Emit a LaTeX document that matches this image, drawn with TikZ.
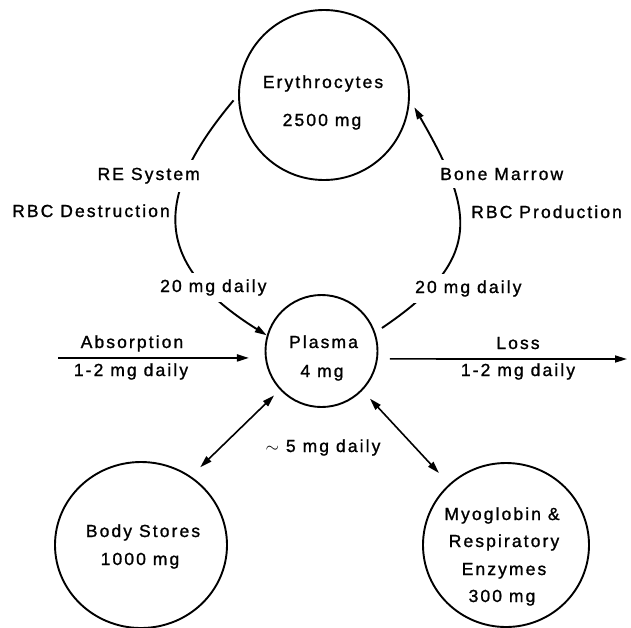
\documentclass[tikz,border=0pt]{standalone}
\usepackage{fontspec}
\setmainfont{Liberation Sans}[LetterSpace=12,FakeBold=1.2]
\usetikzlibrary{arrows.meta,shapes.geometric}
\begin{document}
\begin{tikzpicture}[x=1pt,y=1pt,
  every node/.style={font=\fontsize{17.5}{21}\selectfont, inner sep=0pt},
  ring/.style={draw, line width=1.9pt, circle, inner sep=0pt},
  oval/.style={draw, line width=1.9pt, ellipse, inner sep=0pt},
  tipa/.tip={Triangle[length=12pt,width=7pt]},
  flow/.style={line width=1.9pt, -tipa},
  both/.style={line width=1.6pt, tipa-tipa},
  lbl/.style={anchor=base},
  gap/.style={anchor=base, fill=white, inner xsep=2pt, inner ysep=8pt}
]
\useasboundingbox (0,0) rectangle (631,-627);
% pools
\node[ring, minimum size=170pt] (ery) at (324,-95) {};
\node[ring, minimum size=112pt] (pl) at (321.5,-351) {};
\node[oval, minimum width=172pt, minimum height=166pt] (bs) at (141,-545) {};
\node[oval, minimum width=166pt, minimum height=164pt] (myo) at (506,-545) {};
% connectors
\draw[flow, shorten <=7pt] (ery.180) to[out=230, in=148, looseness=1.42] (pl.164);
\draw[flow, shorten <=8pt, shorten >=9pt] (pl.19) to[out=34, in=-60, looseness=1.42] (ery.-3);
\draw[both, shorten <=8pt, shorten >=13pt] (pl.223) -- (bs.54);
\draw[both, shorten <=11pt, shorten >=15pt] (pl.316) -- (myo.133);
\coordinate (absin) at (58,-358);
\coordinate (lossout) at (627,-359);
\draw[flow, shorten >=16pt] (absin) -- (pl.187);
\draw[flow, line width=1.6pt, shorten <=12pt] (pl.352) -- (lossout);
% texts
\node[lbl] (t-ery) at (323,-88) {Erythrocytes};
\node[lbl] (t-ery2) at (322,-126) {2500 mg};
\node[lbl] (t-pl) at (323.5,-348) {Plasma};
\node[lbl] (t-pl2) at (322,-377) {4 mg};
\node[lbl] (t-five) at (323,-452) {$\sim$ 5 mg daily};
\node[gap, anchor=base east] (t-re) at (202,-180) {RE System};
\node[lbl, anchor=base east] (t-rbcd) at (170,-217) {RBC Destruction};
\node[gap, inner ysep=6pt, anchor=base west] (t-20l) at (158,-292) {20 mg daily};
\node[gap, anchor=base west] (t-bm) at (438,-180) {Bone Marrow};
\node[lbl, anchor=base west] (t-rbcp) at (471,-218) {RBC Production};
\node[gap, inner ysep=6pt, anchor=base west] (t-20r) at (413,-293) {20 mg daily};
\node[lbl] (t-abs) at (132,-348) {Absorption};
\node[lbl] (t-abs2) at (131,-376) {1-2 mg daily};
\node[lbl] (t-loss) at (518,-349) {Loss};
\node[lbl] (t-loss2) at (518,-376) {1-2 mg daily};
\node[lbl] (t-bs) at (143,-537) {Body Stores};
\node[lbl] (t-bs2) at (140,-565) {1000 mg};
\node[lbl] (t-myo1) at (502,-520) {Myoglobin \&};
\node[lbl] (t-myo2) at (504,-547) {Respiratory};
\node[lbl] (t-myo3) at (504,-575) {Enzymes};
\node[lbl] (t-myo4) at (502,-602) {300 mg};
\end{tikzpicture}
\end{document}
